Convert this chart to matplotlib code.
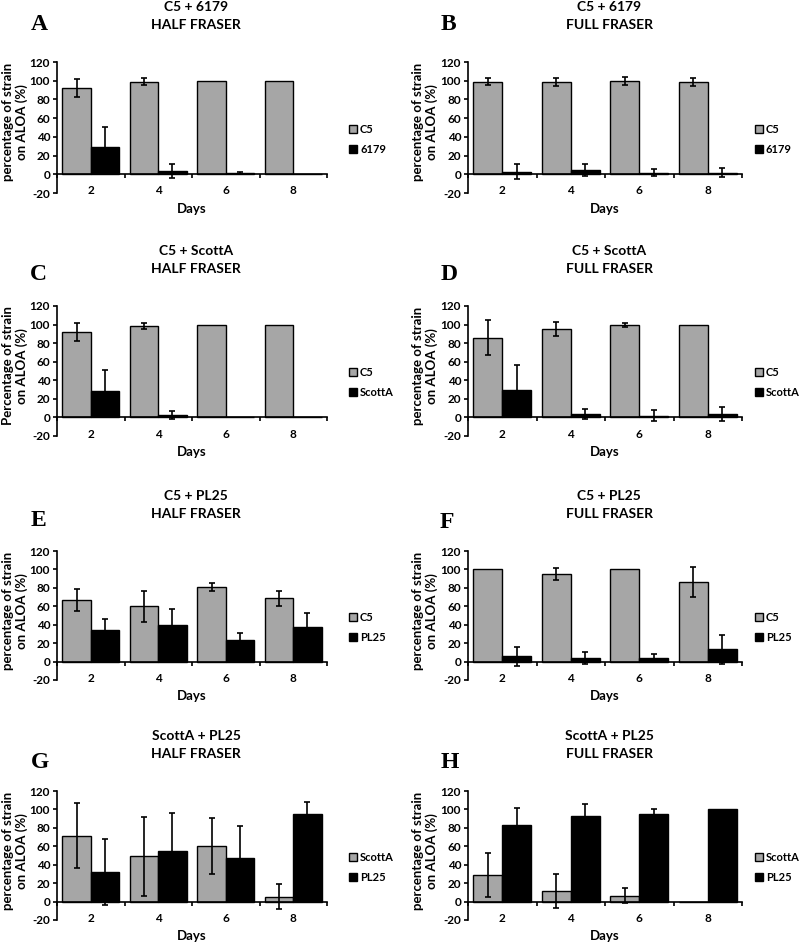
#Load packages
import numpy as np
import matplotlib
matplotlib.use('Agg')
import matplotlib.pyplot as plt
from matplotlib.patches import Patch

plt.rcParams['font.family'] = ['Lato', 'DejaVu Sans']
plt.rcParams['font.weight'] = 'bold'
plt.rcParams['axes.unicode_minus'] = False

# =============================================================================
# Data
# =============================================================================
days = ['2', '4', '6', '8']

# A: C5 + 6179, half Fraser
c5_a = [92, 99, 100, 100]
c5_a_err = [9.5, 4, 0, 0]
l6179_a = [29.5, 3.5, 1.4, 0]
l6179_a_err = [21, 7, 1, 0]

# B: C5 + 6179, full Fraser
c5_b = [99, 98.5, 99.5, 98.5]
c5_b_err = [4, 4.5, 4, 4.5]
l6179_b = [2.8, 4.5, 1.8, 1.8]
l6179_b_err = [8, 6, 3.5, 5]

# C: C5 + ScottA, half Fraser
c5_c = [92, 98.5, 100, 100]
c5_c_err = [10, 3.6, 0, 0]
scotta_c = [28.5, 2.5, 0, 0]
scotta_c_err = [23, 4, 0, 0]

# D: C5 + ScottA, full Fraser
c5_d = [86, 95, 99.5, 100]
c5_d_err = [18.5, 7.5, 2, 0]
scotta_d = [29.5, 4, 2, 3.8]
scotta_d_err = [27, 5.5, 5.5, 7.5]

# E: C5 + PL25, half Fraser
c5_e = [66.5, 60, 81, 68.5]
c5_e_err = [12, 17, 4, 8.5]
pl25_e = [33.8, 40.2, 23, 37]
pl25_e_err = [12, 17, 7.5, 15.7]

# F: C5 + PL25, full Fraser
c5_f = [100, 95, 100, 86]
c5_f_err = [0, 7, 0, 16.3]
pl25_f = [5.7, 4.3, 3.9, 13.5]
pl25_f_err = [10, 6.5, 4.6, 15.7]

# G: ScottA + PL25, half Fraser
scotta_g = [71.5, 49.3, 60.5, 5.4]
scotta_g_err = [35, 43, 30.5, 14]
pl25_g = [31.8, 54.6, 47.5, 94.6]
pl25_g_err = [35.7, 41, 34, 14]

# H: ScottA + PL25, full Fraser
scotta_h = [29, 11.4, 6.4, 0]
scotta_h_err = [23.5, 18, 7.8, 0]
pl25_h = [83.6, 92.5, 94.6, 100]
pl25_h_err = [18, 13.5, 6, 0]

letters = ['A', 'B', 'C', 'D', 'E', 'F', 'G', 'H']
titles = ['C5 + 6179', 'C5 + 6179', 'C5 + ScottA', 'C5 + ScottA',
          'C5 + PL25', 'C5 + PL25', 'ScottA + PL25', 'ScottA + PL25']
media = ['HALF FRASER', 'FULL FRASER'] * 4
series_names = [('C5', '6179'), ('C5', '6179'), ('C5', 'ScottA'), ('C5', 'ScottA'),
                ('C5', 'PL25'), ('C5', 'PL25'), ('ScottA', 'PL25'), ('ScottA', 'PL25')]
gray_vals = [c5_a, c5_b, c5_c, c5_d, c5_e, c5_f, scotta_g, scotta_h]
gray_errs = [c5_a_err, c5_b_err, c5_c_err, c5_d_err, c5_e_err, c5_f_err, scotta_g_err, scotta_h_err]
black_vals = [l6179_a, l6179_b, scotta_c, scotta_d, pl25_e, pl25_f, pl25_g, pl25_h]
black_errs = [l6179_a_err, l6179_b_err, scotta_c_err, scotta_d_err, pl25_e_err, pl25_f_err, pl25_g_err, pl25_h_err]
ylabels = ['percentage of strain\non ALOA (%)'] * 8
ylabels[2] = 'Percentage of strain\non ALOA (%)'

# =============================================================================
# Layout (pixel positions of each plot area)
# =============================================================================
W, H = 800, 943
cols = [(57, 327), (468, 742)]
rows = [(62, 193), (306, 436), (551, 680), (791, 920)]
letter_pos = [(39, 25), (448, 25), (38, 275), (449, 275),
              (38, 521), (447, 522), (40, 763), (450, 762)]

fig = plt.figure(figsize=(W / 100, H / 100), dpi=100)
gray = '#a6a6a6'
width = 0.42
x = np.arange(1, 5)

for i in range(8):
    x0, x1 = cols[i % 2]
    y0, y1 = rows[i // 2]
    ax = fig.add_axes([x0 / W, 1 - y1 / H, (x1 - x0) / W, (y1 - y0) / H])

    g = np.array(gray_vals[i], dtype=float)
    ge = np.array(gray_errs[i], dtype=float)
    b = np.array(black_vals[i], dtype=float)
    be = np.array(black_errs[i], dtype=float)

    ax.bar(x - width / 2, g, width, color=gray, edgecolor='black', linewidth=1, zorder=2)
    ax.bar(x + width / 2, b, width, color='black', edgecolor='black', linewidth=1, zorder=2)
    m = ge > 0
    ax.errorbar((x - width / 2)[m], g[m], yerr=ge[m], fmt='none', ecolor='black',
                elinewidth=1.2, capsize=2, capthick=1.2, zorder=3)
    m = be > 0
    ax.errorbar((x + width / 2)[m], b[m], yerr=be[m], fmt='none', ecolor='black',
                elinewidth=1.2, capsize=2, capthick=1.2, zorder=3)

    ax.set_xlim(0.5, 4.5)
    ax.set_ylim(-20, 120)
    ax.set_yticks(np.arange(-20, 121, 20))
    ax.set_xticks(x)
    ax.set_xticklabels(days)
    ax.set_xticks(np.arange(0.5, 4.6, 1), minor=True)
    ax.tick_params(axis='x', which='major', length=0, pad=8, labelsize=8.5)
    ax.tick_params(axis='x', which='minor', length=3, width=1.2, direction='out')
    ax.tick_params(axis='y', length=3, width=1.2, direction='out', pad=2, labelsize=8.5)
    for lab in ax.get_xticklabels() + ax.get_yticklabels():
        lab.set_fontweight('bold')

    ax.spines['top'].set_visible(False)
    ax.spines['right'].set_visible(False)
    ax.spines['bottom'].set_position(('data', 0))
    ax.spines['bottom'].set_linewidth(1.2)
    ax.spines['left'].set_linewidth(1.2)
    ax.patch.set_visible(False)

    ax.text(0.5, -16 / (y1 - y0), 'Days', transform=ax.transAxes, ha='center',
            va='center', fontsize=9.5, fontweight='bold')

    handles = [Patch(facecolor=gray, edgecolor='black', linewidth=1),
               Patch(facecolor='black', edgecolor='black', linewidth=1)]
    lx_leg = 1.065 if i % 2 == 0 else 1.03
    ax.legend(handles, series_names[i], loc='center left', bbox_to_anchor=(lx_leg, 0.41),
              frameon=False, handlelength=0.75, handleheight=0.75, handletextpad=0.25,
              labelspacing=0.8, prop={'size': 8, 'weight': 'bold'}, borderaxespad=0)

    # titles, panel letters and y labels
    xc = (x0 + x1) / 2 + 4
    fig.text(xc / W, 1 - (y0 - 55) / H, titles[i], ha='center', va='center',
             fontsize=10, fontweight='bold')
    fig.text(xc / W, 1 - (y0 - 37) / H, media[i], ha='center', va='center',
             fontsize=10, fontweight='bold')
    lx, ly = letter_pos[i]
    fig.text(lx / W, 1 - ly / H, letters[i], ha='center', va='center', fontsize=17,
             fontweight='bold', family='Liberation Serif')
    yl_x = 15 if i % 2 == 0 else 425
    fig.text(yl_x / W, 1 - (y0 + 60) / H, ylabels[i], rotation=90, ha='center',
             va='center', multialignment='center', fontsize=9.5, fontweight='bold',
             linespacing=1.05)

fig.savefig('out.png', dpi=100)
